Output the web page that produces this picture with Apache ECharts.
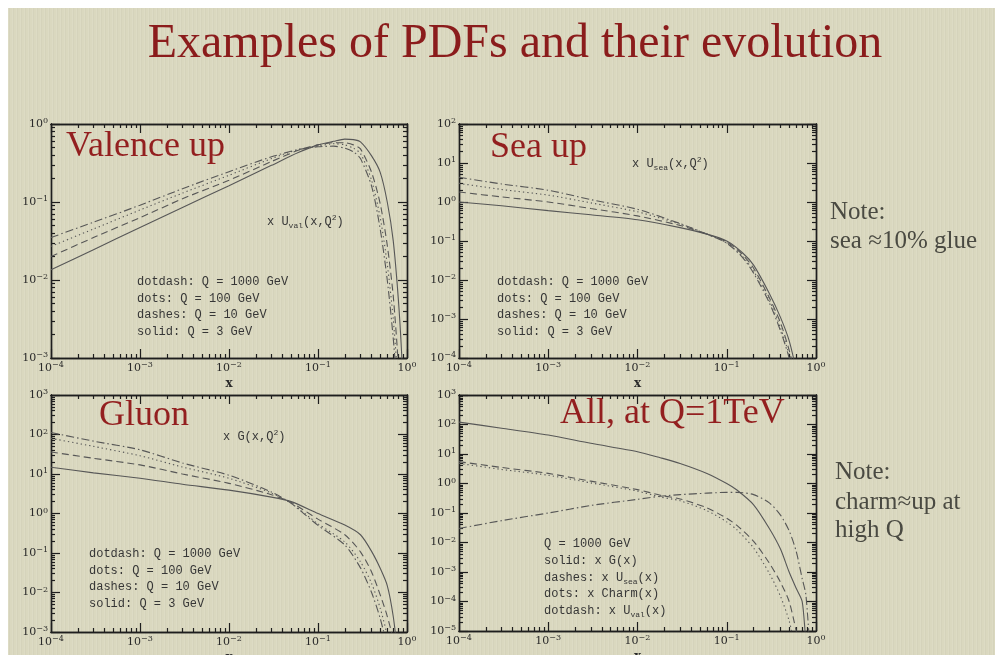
<!DOCTYPE html>
<html>
<head>
<meta charset="utf-8">
<script src="https://cdn.jsdelivr.net/npm/echarts@6/dist/echarts.min.js"></script>
<style>
  html, body { margin: 0; padding: 0; background: #fff; }
  #paper {
    position: absolute; left: 8px; top: 8px; width: 987px; height: 647px;
    background-color: #dad8bf;
    background-image: repeating-linear-gradient(90deg, rgba(255,255,255,0.08) 0 1px, rgba(0,0,0,0.025) 1px 2px, transparent 2px 4px);
  }
  #chart { position: absolute; left: 0; top: 0; width: 995px; height: 655px; }
</style>
</head>
<body>
<div id="paper"></div>
<div id="chart"></div>
<script>
// ---- data ----
// Valence up: x U_val(x,Q^2)
const valX = [1e-4, 3e-4, 1e-3, 3e-3, 1e-2, 3e-2, 0.06, 0.1, 0.15, 0.2, 0.25, 0.3, 0.4, 0.5, 0.6, 0.7, 0.8, 0.87, 0.9];
const valQ3 = [0.0135, 0.0245, 0.047, 0.085, 0.162, 0.295, 0.43, 0.54, 0.60, 0.64, 0.63, 0.59, 0.39, 0.24, 0.10, 0.032, 0.0056, 0.00115, 0.0004];
const valQ10 = [0.020, 0.035, 0.063, 0.11, 0.19, 0.33, 0.46, 0.54, 0.575, 0.575, 0.54, 0.48, 0.24, 0.095, 0.028, 0.0063, 0.0008, 0.00012, 0.00005];
const valQ100 = [0.027, 0.045, 0.079, 0.13, 0.22, 0.36, 0.47, 0.52, 0.56, 0.54, 0.49, 0.42, 0.19, 0.063, 0.016, 0.0032, 0.0004, 0.00006, 0.00002];
const valQ1000 = [0.035, 0.055, 0.091, 0.148, 0.245, 0.38, 0.47, 0.51, 0.52, 0.49, 0.44, 0.36, 0.16, 0.045, 0.01, 0.0018, 0.00025, 0.00003, 0.00001];

// Sea up: x U_sea(x,Q^2)
const seaX = [1e-4, 3e-4, 1e-3, 3e-3, 1e-2, 3e-2, 0.06, 0.1, 0.15, 0.2, 0.3, 0.4, 0.5, 0.6];
const seaQ3 = [1.0, 0.8, 0.6, 0.47, 0.35, 0.22, 0.15, 0.1, 0.05, 0.024, 0.0045, 0.0011, 0.00028, 0.00005];
const seaQ10 = [1.8, 1.35, 1.0, 0.68, 0.44, 0.25, 0.15, 0.095, 0.045, 0.02, 0.0035, 0.0008, 0.00016, 0.00003];
const seaQ100 = [3.0, 2.1, 1.5, 0.95, 0.56, 0.27, 0.15, 0.09, 0.04, 0.017, 0.003, 0.0006, 0.00012, 0.00002];
const seaQ1000 = [4.3, 2.9, 2.0, 1.15, 0.65, 0.28, 0.15, 0.088, 0.038, 0.015, 0.0026, 0.0005, 0.0001, 0.000015];

// Gluon: x G(x,Q^2)
const gluX = [1e-4, 3e-4, 1e-3, 3e-3, 1e-2, 3e-2, 0.05, 0.1, 0.2, 0.3, 0.4, 0.5, 0.6, 0.7, 0.8];
const gluQ3 = [14.8, 10.7, 7.8, 5.5, 3.9, 2.6, 2.0, 1.0, 0.51, 0.29, 0.11, 0.041, 0.015, 0.0025, 0.0002];
const gluQ10 = [36, 25, 17, 10, 5.8, 3.0, 1.9, 0.72, 0.29, 0.107, 0.033, 0.0087, 0.0025, 0.0006, 0.00003];
const gluQ100 = [80, 50, 29, 15, 7.8, 3.3, 1.8, 0.55, 0.19, 0.06, 0.017, 0.004, 0.0008, 0.0001, 0.00001];
const gluQ1000 = [112, 68, 41, 19, 9.3, 3.5, 1.8, 0.5, 0.16, 0.042, 0.01, 0.0022, 0.0004, 0.00005, 0.000005];

// All at Q = 1 TeV
const allX = [1e-4, 3e-4, 1e-3, 3e-3, 1e-2, 0.018, 0.03, 0.06, 0.1, 0.13, 0.2, 0.3, 0.4, 0.5, 0.6, 0.7, 0.77, 0.85];
const allGluon = [120, 75, 44, 23, 12, 7.5, 4.8, 2.2, 1.0, 0.6, 0.19, 0.03, 0.006, 0.001, 0.00028, 0.0001, 0.000005, 0.000001];
const allSea = [5.5, 3.5, 2.2, 1.2, 0.62, 0.4, 0.3, 0.15, 0.066, 0.038, 0.011, 0.002, 0.00045, 0.0001, 0.00001, 0.000001, 0.0000002, 0.00000005];
const allCharm = [4.8, 3.0, 1.9, 1.05, 0.55, 0.35, 0.26, 0.12, 0.05, 0.027, 0.0065, 0.0009, 0.00015, 0.000022, 0.000002, 0.0000002, 0.00000005, 0.00000001];
const allVal = [0.03, 0.055, 0.1, 0.18, 0.29, 0.37, 0.42, 0.47, 0.5, 0.5, 0.42, 0.22, 0.085, 0.025, 0.005, 0.0006, 0.00017, 0.000003];

// axis decades (exponents)
const xDecades = [-4, 0];
const yDecades = [[-3, 0], [-4, 2], [-3, 3], [-5, 3]];

// ---- layout ----
const GRIDS = [
  { left: 51, top: 124, width: 356, height: 234 },
  { left: 459, top: 124, width: 357, height: 234 },
  { left: 51, top: 395, width: 356, height: 237 },
  { left: 459, top: 395, width: 357, height: 236 },
];

const DASH = { solid: 'solid', dashes: [7, 4], dots: [1.3, 3], dotdash: [8, 3, 1.5, 3] };

const PANELS = [
  { x: valX, lines: [[valQ3, 'solid'], [valQ10, 'dashes'], [valQ100, 'dots'], [valQ1000, 'dotdash']] },
  { x: seaX, lines: [[seaQ3, 'solid'], [seaQ10, 'dashes'], [seaQ100, 'dots'], [seaQ1000, 'dotdash']] },
  { x: gluX, lines: [[gluQ3, 'solid'], [gluQ10, 'dashes'], [gluQ100, 'dots'], [gluQ1000, 'dotdash']] },
  { x: allX, lines: [[allGluon, 'solid'], [allSea, 'dashes'], [allCharm, 'dots'], [allVal, 'dotdash']] },
];

const p10 = (e) => parseFloat('1e' + e);
const decades = (lo, hi) => { const a = []; for (let e = lo; e <= hi; e++) a.push(p10(e)); return a; };
const minors = (lo, hi) => {
  const a = [];
  for (let e = lo; e < hi; e++) for (let k = 2; k <= 9; k++) a.push(parseFloat(k + 'e' + e));
  return a;
};

const labelFont = 'DejaVu Serif';
const tickLabel = {
  show: true,
  margin: 3,
  formatter: (v) => {
    const e = Math.round(Math.log10(v));
    return '{b|10}{s|' + (e < 0 ? '\u2212' + (-e) : e) + '}';
  },
  rich: {
    b: { fontFamily: labelFont, fontSize: 11, lineHeight: 14, color: '#2a2a2a' },
    s: { fontFamily: labelFont, fontSize: 8, lineHeight: 8, verticalAlign: 'top', color: '#2a2a2a' },
  },
};

function makeAxes(gi, lo, hi, sideA, sideB, name) {
  const major = decades(lo, hi);
  const minor = minors(lo, hi);
  const base = {
    type: 'log', logBase: 10, gridIndex: gi, min: p10(lo), max: p10(hi),
    splitLine: { show: false }, minorTick: { show: false },
    axisLine: { show: true, onZero: false, lineStyle: { color: '#1e1e1e', width: 1.4 } },
    axisPointer: { show: false }, silent: true,
  };
  const tick = (vals, len) => ({ show: true, inside: true, length: len, customValues: vals, lineStyle: { color: '#1e1e1e', width: 1.2 } });
  const main = Object.assign({}, base, {
    position: sideA, axisTick: tick(major, 9),
    axisLabel: Object.assign({ customValues: major }, tickLabel),
  });
  if (name) {
    Object.assign(main, { name: name, nameLocation: 'middle', nameGap: 20,
      nameTextStyle: { fontFamily: labelFont, fontSize: 12, color: '#2a2a2a', fontWeight: 'bold' } });
  }
  return [
    main,
    Object.assign({}, base, { position: sideB, axisTick: tick(major, 9), axisLabel: { show: false } }),
    Object.assign({}, base, { position: sideA, axisTick: tick(minor, 4), axisLabel: { show: false } }),
    Object.assign({}, base, { position: sideB, axisTick: tick(minor, 4), axisLabel: { show: false } }),
  ];
}

const xAxes = [], yAxes = [], series = [];
PANELS.forEach((p, i) => {
  xAxes.push(...makeAxes(i, xDecades[0], xDecades[1], 'bottom', 'top', 'x'));
  yAxes.push(...makeAxes(i, yDecades[i][0], yDecades[i][1], 'left', 'right', null));
  p.lines.forEach(([ys, style]) => {
    series.push({
      type: 'line', xAxisIndex: 4 * i, yAxisIndex: 4 * i,
      data: p.x.map((x, k) => [x, ys[k]]),
      symbol: 'none', showSymbol: false, smooth: 0.25, clip: true, silent: true,
      lineStyle: { color: '#575757', width: 1.1, type: DASH[style] },
    });
  });
});

// ---- texts ----
const red = '#931f1f';
const ink = '#363636';
const noteInk = '#4a4a42';
const mono = 'Liberation Mono';
const richMono = {
  sub: { fontFamily: mono, fontSize: 8, lineHeight: 16, verticalAlign: 'bottom', fill: ink },
  sup: { fontFamily: mono, fontSize: 8, lineHeight: 16, verticalAlign: 'top', fill: ink },
};
function txt(x, y, text, font, size, color, align) {
  return { type: 'text', x: x, y: y, silent: true, z: 10,
    style: { text: text, fontFamily: font, fontSize: size, fill: color, align: align || 'left', verticalAlign: 'middle' } };
}
function monoTxt(x, y, text) {
  return { type: 'text', x: x, y: y, silent: true, z: 10,
    style: { text: text, fontFamily: mono, fontSize: 12, lineHeight: 16, fill: ink, verticalAlign: 'middle', rich: richMono } };
}

const graphic = [
  txt(515, 44, 'Examples of PDFs and their evolution', 'Liberation Serif', 48, '#8b1c1c', 'center'),
  txt(66, 147, 'Valence up', 'Liberation Serif', 36, red),
  txt(490, 148, 'Sea up', 'Liberation Serif', 36, red),
  txt(99, 416, 'Gluon', 'Liberation Serif', 36, red),
  txt(560, 414, 'All, at Q=1TeV', 'Liberation Serif', 36, red),
  txt(830, 212, 'Note:', 'Liberation Serif', 25, noteInk),
  txt(830, 241, 'sea \u224810% glue', 'Liberation Serif', 25, noteInk),
  txt(835, 472, 'Note:', 'Liberation Serif', 25, noteInk),
  txt(835, 502, 'charm\u2248up at', 'Liberation Serif', 25, noteInk),
  txt(835, 530, 'high Q', 'Liberation Serif', 25, noteInk),
  monoTxt(267, 222, 'x U{sub|val}(x,Q{sup|2})'),
  monoTxt(632, 164, 'x U{sub|sea}(x,Q{sup|2})'),
  monoTxt(223, 437, 'x G(x,Q{sup|2})'),
];
const legendTop = ['dotdash: Q = 1000 GeV', 'dots: Q = 100 GeV', 'dashes: Q = 10 GeV', 'solid: Q = 3 GeV'];
const legendAll = ['Q = 1000 GeV', 'solid: x G(x)', 'dashes: x U{sub|sea}(x)', 'dots: x Charm(x)', 'dotdash: x U{sub|val}(x)'];
[[137, 282], [497, 282], [89, 554]].forEach(([x, y0]) => {
  legendTop.forEach((t, k) => graphic.push(monoTxt(x, y0 + k * 16.5, t)));
});
legendAll.forEach((t, k) => graphic.push(monoTxt(544, 544 + k * 16.7, t)));

const chart = echarts.init(document.getElementById('chart'));
chart.setOption({
  backgroundColor: 'transparent',
  animation: false,
  grid: GRIDS.map((g) => Object.assign({ containLabel: false, outerBoundsMode: 'none' }, g)),
  xAxis: xAxes,
  yAxis: yAxes,
  series: series,
  graphic: graphic,
});
</script>
</body>
</html>
